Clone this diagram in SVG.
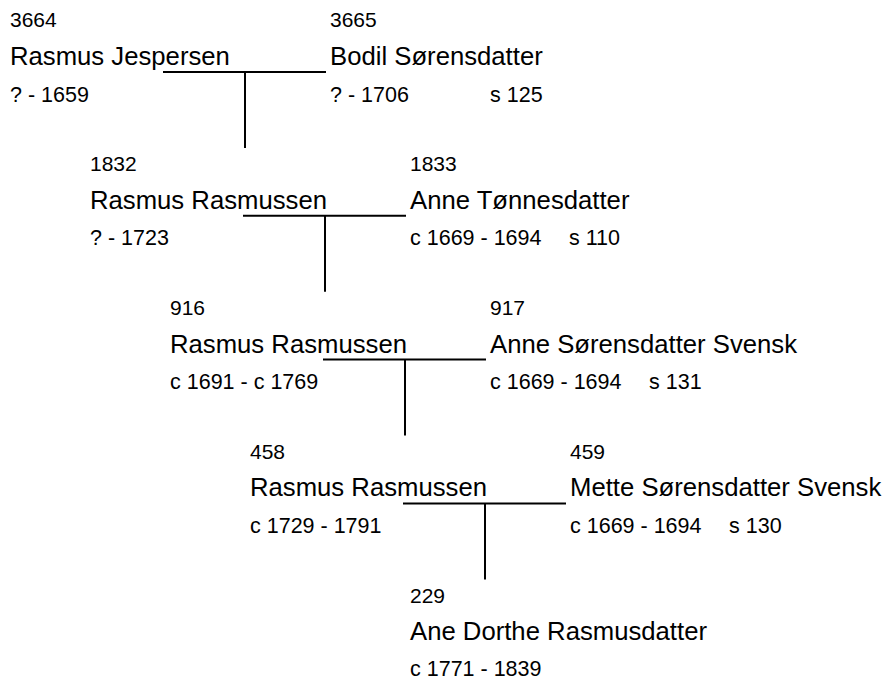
<svg xmlns="http://www.w3.org/2000/svg" width="885" height="679" viewBox="0 0 885 679">
<style>
text{font-family:"Liberation Sans",Arial,sans-serif;fill:#000}
.n{font-size:21px}
.nm{font-size:25.7px}
.d{font-size:21.5px}
.c line{stroke:#000;stroke-width:2}
</style>
<rect width="885" height="679" fill="#fff"/>
<g id="p3664"><text class="n" x="10" y="27.3">3664</text><text class="nm" x="10" y="65">Rasmus Jespersen</text><text class="d" x="10" y="101.5">? - 1659</text></g>
<g id="p3665"><text class="n" x="330" y="27.3">3665</text><text class="nm" x="330" y="65">Bodil Sørensdatter</text><text class="d" x="330" y="101.5">? - 1706</text><text class="d" x="490" y="101.5">s 125</text></g>
<g id="p1832"><text class="n" x="90" y="171.1">1832</text><text class="nm" x="90" y="208.8">Rasmus Rasmussen</text><text class="d" x="90" y="245.3">? - 1723</text></g>
<g id="p1833"><text class="n" x="410" y="171.1">1833</text><text class="nm" x="410" y="208.8">Anne Tønnesdatter</text><text class="d" x="410" y="245.3">c 1669 - 1694</text><text class="d" x="569" y="245.3">s 110</text></g>
<g id="p916"><text class="n" x="170" y="314.9">916</text><text class="nm" x="170" y="352.6">Rasmus Rasmussen</text><text class="d" x="170" y="389.1">c 1691 - c 1769</text></g>
<g id="p917"><text class="n" x="490" y="314.9">917</text><text class="nm" x="490" y="352.6">Anne Sørensdatter Svensk</text><text class="d" x="490" y="389.1">c 1669 - 1694</text><text class="d" x="649" y="389.1">s 131</text></g>
<g id="p458"><text class="n" x="250" y="458.7">458</text><text class="nm" x="250" y="496.4">Rasmus Rasmussen</text><text class="d" x="250" y="532.9">c 1729 - 1791</text></g>
<g id="p459"><text class="n" x="570" y="458.7">459</text><text class="nm" x="570" y="496.4">Mette Sørensdatter Svensk</text><text class="d" x="570" y="532.9">c 1669 - 1694</text><text class="d" x="729" y="532.9">s 130</text></g>
<g id="p229"><text class="n" x="410" y="602.5">229</text><text class="nm" x="410" y="640.2">Ane Dorthe Rasmusdatter</text><text class="d" x="410" y="676">c 1771 - 1839</text></g>
<g id="connectors" class="c">
<line x1="163" y1="72" x2="326" y2="72"/><line x1="245" y1="72" x2="245" y2="148"/>
<line x1="243" y1="215.8" x2="406" y2="215.8"/><line x1="325" y1="215.8" x2="325" y2="291.8"/>
<line x1="323" y1="359.6" x2="486" y2="359.6"/><line x1="405" y1="359.6" x2="405" y2="435.6"/>
<line x1="403" y1="503.4" x2="566" y2="503.4"/><line x1="485" y1="503.4" x2="485" y2="579.4"/>
</g>
</svg>
